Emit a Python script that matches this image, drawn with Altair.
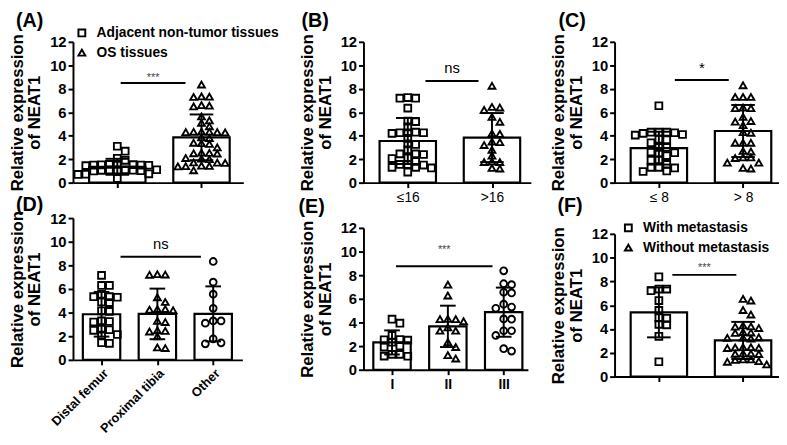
import altair as alt
import pandas as pd

FONT = "Liberation Sans"

# ---------------- data ----------------
# (A)
A_cats = ["Adjacent non-tumor tissues", "OS tissues"]
A_adjacent = [3.1, 2.68, 2.07, 1.9, 1.55, 1.5, 1.52, 1.48, 1.55, 1.5, 1.45, 1.53,
              1.1, 1.05, 1.08, 1.0, 1.06, 1.1, 1.02, 1.08, 0.75, 0.7, 0.72, 0.35]
A_os = [8.36, 7.33, 7.3, 7.35, 6.56, 6.5, 6.6, 5.64, 5.3, 5.1, 4.8,
        4.33, 4.3, 4.35, 4.28, 4.33, 4.3, 3.8, 3.85, 3.36, 3.3, 3.4, 3.0,
        2.53, 2.5, 2.55, 2.48, 2.05, 2.0, 2.1, 1.7, 1.72, 1.68, 1.42, 1.45, 1.4, 1.38, 1.05]
A_mean = [1.35, 3.86]
A_sd = [0.68, 1.95]

# (B) age
B_cats = ["≤16", ">16"]
B_le16 = [7.2, 7.2, 7.25, 6.35, 5.2, 5.25, 4.75, 4.25, 4.25, 4.2, 4.25, 4.3, 3.78,
          3.3, 3.25, 2.8, 2.45, 2.4, 2.45, 2.1, 2.05, 1.8, 1.55, 1.5, 1.55, 1.3, 1.25, 1.3, 0.9]
B_gt16 = [8.25, 6.45, 6.4, 6.2, 5.6, 5.18, 4.2, 4.15, 3.5, 3.45, 3.2, 2.8, 2.3,
          1.75, 1.8, 1.75, 1.25, 1.2]
B_mean = [3.55, 3.84]
B_sd = [1.96, 2.09]

# (C) tumor size
C_cats = ["≤ 8", "> 8"]
C_le8 = [6.55, 4.3, 4.3, 4.25, 4.2, 4.3, 4.05, 4.1, 3.65, 3.7, 3.4, 3.0, 3.0,
         2.55, 2.5, 2.6, 2.3, 1.9, 1.95, 1.55, 1.3, 1.25, 1.3, 1.0, 0.95]
C_gt8 = [8.3, 7.3, 7.3, 7.3, 6.35, 6.4, 6.35, 5.6, 5.25, 5.2, 4.9, 4.3, 4.25,
         3.4, 3.4, 3.4, 2.7, 2.65, 2.15, 2.1, 2.15, 1.7, 1.7, 1.25, 1.2]
C_mean = [2.94, 4.4]
C_sd = [1.4, 2.22]

# (D) location
D_cats = ["Distal femur", "Proximal tibia", "Other"]
D_femur = [7.15, 6.3, 6.3, 5.35, 5.3, 5.35, 5.55, 4.9, 4.85, 4.15, 4.1, 3.25, 3.3, 3.2,
           2.55, 2.5, 2.6, 2.15, 2.1, 1.45, 1.4]
D_tibia = [7.2, 7.22, 7.25, 5.3, 4.9, 4.3, 4.25, 4.3, 4.2, 3.3, 3.2, 2.45, 2.4, 2.5,
           2.0, 1.05, 1.0]
D_other = [8.33, 6.58, 5.56, 4.36, 3.3, 3.11, 3.3, 1.78, 1.36, 1.44]
D_mean = [3.86, 3.89, 3.89]
D_sd = [1.89, 2.14, 2.33]

# (E) stage
E_cats = ["I", "II", "III"]
E_I = [4.28, 3.94, 2.9, 2.53, 2.5, 2.33, 2.55, 1.92, 2.0, 1.3, 1.15, 1.14, 1.3]
E_II = [7.2, 6.28, 4.28, 4.3, 4.1, 4.28, 3.58, 3.3, 3.3, 2.33, 1.92, 0.95, 1.23]
E_III = [8.37, 7.28, 7.2, 6.56, 6.5, 5.3, 5.2, 5.55, 4.28, 4.3, 3.3, 3.3, 2.9, 1.58, 1.78]
E_mean = [2.31, 3.67, 4.87]
E_sd = [1.02, 1.75, 2.08]

# (F) metastasis
F_cats = ["With metastasis", "Without metastasis"]
F_with = [8.39, 7.36, 7.36, 7.22, 6.39, 5.56, 4.94, 4.9, 4.39, 4.35, 3.39, 1.25]
F_without = [6.39, 6.53, 5.6, 5.22, 4.22, 4.08, 4.3, 4.2, 3.75, 3.67, 3.7, 3.2, 3.28,
             3.25, 3.3, 2.42, 2.47, 2.45, 2.4, 2.47, 1.94, 1.9, 1.92, 1.95,
             1.44, 1.25, 1.03, 1.3, 1.45, 1.4]
F_mean = [5.4, 3.04]
F_sd = [2.1, 1.56]

# significance annotations: [start, end] in group units, line level, text level, label
A_sig = [0.04, 0.81, 8.5, 8.95, "***"]
B_sig = [0.21, 0.84, 8.66, 9.77, "ns"]
C_sig = [0.19, 0.83, 8.74, 9.8, "*"]
D_sig = [0.34, 1.78, 8.72, 9.78, "ns"]
E_sig = [0.07, 1.80, 8.75, 10.1, "***"]
F_sig = [0.16, 0.92, 8.55, 9.1, "***"]

Y_TICKS = [0, 2, 4, 6, 8, 10, 12]
SHAPES = ["square", "triangle-up", "circle"]


def swarm(values, px_per_x, px_per_y, dx=7.8, dy=5.5):
    """Deterministic row-style beeswarm: horizontal pixel offsets avoiding overlaps."""
    order = sorted(range(len(values)), key=lambda i: -values[i])
    placed = []
    out = [0.0] * len(values)
    for i in order:
        y = values[i] * px_per_y
        chosen = 0.0
        k = 0
        while True:
            cands = [0.0] if k == 0 else [k * 0.5, -k * 0.5]
            ok = None
            for s in cands:
                if all(abs(s - px) >= dx or abs(y - py) >= dy for px, py in placed):
                    ok = s
                    break
            if ok is not None:
                chosen = ok
                break
            k += 1
        placed.append((chosen, y))
        out[i] = chosen / px_per_x
    return out


def panel(letter, cats, series, means, sds, sig, width, height, step, first,
          tick_labels, label_pos, legend_pos=None, label_angle=0, label_bold=False,
          label_size=14):
    n = len(cats)
    lo = -first / step
    hi = lo + width / step
    px_y = height / 12.0

    rows = []
    for gi, vals in enumerate(series):
        offs = swarm(vals, step, px_y)
        for v, o in zip(vals, offs):
            rows.append({"grp": cats[gi], "x": gi + o, "v": v})
    pts = pd.DataFrame(rows)
    bars = pd.DataFrame({"grp": cats, "gi": list(range(n)), "mean": means, "sd": sds})
    sigdf = pd.DataFrame({"x1": [sig[0]], "x2": [sig[1]], "y": [sig[2]],
                          "ty": [sig[3]], "lab": [sig[4]]})

    xs = alt.Scale(domain=[lo, hi], nice=False, zero=False)
    ys = alt.Scale(domain=[0, 12], nice=False, zero=True)
    if tick_labels is None:
        xaxis = alt.Axis(values=list(range(n)), title=None, labels=False, grid=False)
    else:
        arr = "[" + ",".join("'" + t + "'" for t in tick_labels) + "]"
        extra = {}
        if label_angle:
            extra = dict(labelAlign="right", labelBaseline="top")
        xaxis = alt.Axis(values=list(range(n)), title=None, grid=False,
                         labelExpr=arr + "[datum.value]", labelFontSize=label_size,
                         labelFontWeight="bold" if label_bold else "normal",
                         labelFont=FONT, labelAngle=label_angle,
                         labelPadding=2 if label_angle else 3,
                         labelOverlap=False, labelColor="black", labelLimit=0, **extra)
    yaxis = alt.Axis(values=Y_TICKS, title=["Relative expression", "of NEAT1"],
                     titleFontSize=17, titleFontWeight="bold", titleLineHeight=18,
                     titlePadding=6, labelFontSize=15, labelFontWeight="bold",
                     labelFont=FONT, titleFont=FONT, grid=False, labelPadding=2)

    base = alt.Chart(bars)
    bar_l = base.transform_calculate(
        bx1="datum.gi - 0.335", bx2="datum.gi + 0.335", z="0"
    ).mark_rect(fill="white", stroke="black", strokeWidth=2.2).encode(
        x=alt.X("bx1:Q", scale=xs, axis=xaxis), x2="bx2:Q",
        y=alt.Y("mean:Q", scale=ys, axis=yaxis), y2="z:Q")

    if legend_pos is None:
        leg = None
    else:
        leg = alt.Legend(orient="none", legendX=legend_pos[0], legendY=legend_pos[1],
                         title=None, labelFontSize=14, labelFontWeight="bold",
                         labelFont=FONT, labelColor="black", symbolStrokeColor="black",
                         symbolFillColor="white", symbolStrokeWidth=2, symbolSize=48,
                         labelOffset=8, rowPadding=5, padding=0, labelLimit=0)
    pt_l = alt.Chart(pts).mark_point(filled=False, color="black", strokeWidth=1.9,
                                     size=48, opacity=1).encode(
        x=alt.X("x:Q", scale=xs, axis=xaxis),
        y=alt.Y("v:Q", scale=ys, axis=yaxis),
        shape=alt.Shape("grp:N", scale=alt.Scale(domain=cats, range=SHAPES[:n]),
                        legend=leg))

    err = base.transform_calculate(
        elo="datum.mean - datum.sd", ehi="datum.mean + datum.sd"
    ).mark_rule(color="black", strokeWidth=2).encode(
        x=alt.X("gi:Q", scale=xs, axis=xaxis),
        y=alt.Y("elo:Q", scale=ys, axis=yaxis), y2="ehi:Q")
    cap_hi = base.transform_calculate(
        c1="datum.gi - 0.14", c2="datum.gi + 0.14", ehi="datum.mean + datum.sd"
    ).mark_rule(color="black", strokeWidth=2).encode(
        x=alt.X("c1:Q", scale=xs, axis=xaxis), x2="c2:Q",
        y=alt.Y("ehi:Q", scale=ys, axis=yaxis))
    cap_lo = base.transform_calculate(
        c1="datum.gi - 0.14", c2="datum.gi + 0.14", elo="datum.mean - datum.sd"
    ).mark_rule(color="black", strokeWidth=2).encode(
        x=alt.X("c1:Q", scale=xs, axis=xaxis), x2="c2:Q",
        y=alt.Y("elo:Q", scale=ys, axis=yaxis))

    sig_line = alt.Chart(sigdf).mark_rule(color="black", strokeWidth=2).encode(
        x=alt.X("x1:Q", scale=xs, axis=xaxis), x2="x2:Q",
        y=alt.Y("y:Q", scale=ys, axis=yaxis))
    small = sig[4] == "***"
    sig_text = alt.Chart(sigdf).transform_calculate(
        tx="(datum.x1 + datum.x2) / 2"
    ).mark_text(font=FONT, fontSize=11 if small else 15,
                color="#444444" if small else "black", baseline="middle").encode(
        x=alt.X("tx:Q", scale=xs, axis=xaxis),
        y=alt.Y("ty:Q", scale=ys, axis=yaxis), text="lab:N")

    lab = alt.Chart(pd.DataFrame({"t": [letter]})).mark_text(
        font=FONT, fontSize=20, fontWeight="bold", align="left", baseline="top",
        color="black").encode(x=alt.value(label_pos[0]), y=alt.value(label_pos[1]),
                              text="t:N")

    return alt.layer(bar_l, pt_l, err, cap_hi, cap_lo, sig_line, sig_text, lab).properties(
        width=width, height=height)


pA = panel("(A)", A_cats, [A_adjacent, A_os], A_mean, A_sd, A_sig, 173, 143, 85.5, 45,
           None, (-58, -31), legend_pos=(2, -16))
pB = panel("(B)", B_cats, [B_le16, B_gt16], B_mean, B_sd, B_sig, 170, 143, 85.5, 45,
           B_cats, (-63, -31))
pC = panel("(C)", C_cats, [C_le8, C_gt8], C_mean, C_sd, C_sig, 167, 143, 85.5, 45,
           C_cats, (-57, -31))
pD = panel("(D)", D_cats, [D_femur, D_tibia, D_other], D_mean, D_sd, D_sig, 172, 144,
           56.7, 29, D_cats, (-58, -23), label_angle=-45, label_bold=True, label_size=13)
pE = panel("(E)", E_cats, [E_I, E_II, E_III], E_mean, E_sd, E_sig, 167, 144, 56.7, 29,
           E_cats, (-66, -31), label_bold=True)
pF = panel("(F)", F_cats, [F_with, F_without], F_mean, F_sd, F_sig, 167, 145, 85.5, 45,
           None, (-58, -38), legend_pos=(7, -13))


def indep(c):
    return c.resolve_scale(x="independent", y="independent", shape="independent") \
            .resolve_legend(shape="independent")


col1 = indep(alt.vconcat(pA, pD, spacing=4))
col2 = indep(alt.vconcat(pB, pE, spacing=-7))
col3 = indep(alt.vconcat(pC, pF, spacing=-8))
left = indep(alt.hconcat(col1, col2, spacing=19))
chart = indep(alt.hconcat(left, col3, spacing=19)).properties(padding=0).configure(
    font=FONT
).configure_view(stroke=None).configure_axis(
    domainColor="black", domainWidth=2, tickColor="black", tickWidth=2, tickSize=5,
    labelColor="black", titleColor="black", grid=False
)

chart.save("out.html", embed_options={"renderer": "svg", "actions": False})
